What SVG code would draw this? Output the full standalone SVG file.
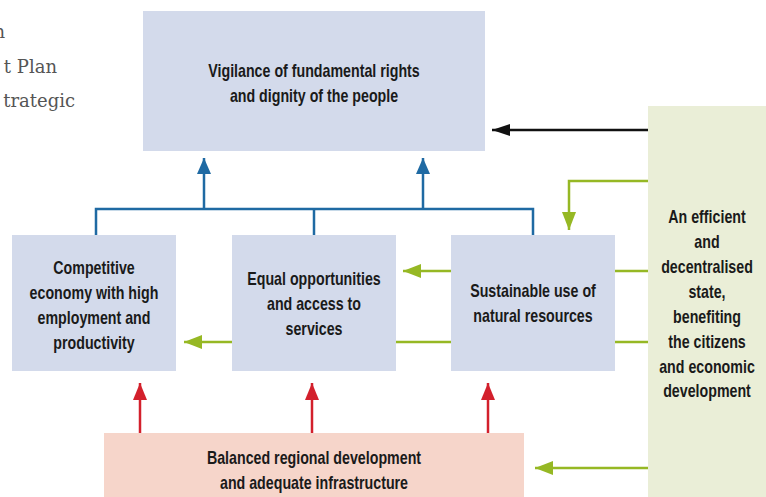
<svg xmlns="http://www.w3.org/2000/svg" width="766" height="497" viewBox="0 0 766 497">
  <style>
    .box { fill: #d3daeb; }
    .lbl { font-family: "Liberation Sans", "DejaVu Sans", sans-serif; font-weight: bold; font-size: 18px; fill: #1a1a1a; text-anchor: middle; }
    .side { font-family: "DejaVu Serif", "Liberation Serif", serif; font-size: 18px; fill: #555; text-anchor: end; }
    .blue { stroke: #1f6aa3; stroke-width: 2.5; fill: none; }
    .green { stroke: #96b824; stroke-width: 2.5; fill: none; }
    .red { stroke: #d3202c; stroke-width: 2.5; fill: none; }
    .black { stroke: #111; stroke-width: 2.5; fill: none; }
  </style>
  <defs>
    <marker id="ahBlue" markerUnits="userSpaceOnUse" markerWidth="16" markerHeight="18" refX="16" refY="7" orient="auto" viewBox="0 0 16 14">
      <path d="M0,0 L16,7 L0,14 z" fill="#1f6aa3"/>
    </marker>
    <marker id="ahGreen" markerUnits="userSpaceOnUse" markerWidth="18" markerHeight="16" refX="18" refY="7" orient="auto" viewBox="0 0 18 14">
      <path d="M0,0 L18,7 L0,14 z" fill="#96b824"/>
    </marker>
    <marker id="ahRed" markerUnits="userSpaceOnUse" markerWidth="17" markerHeight="16" refX="17" refY="7" orient="auto" viewBox="0 0 17 14">
      <path d="M0,0 L17,7 L0,14 z" fill="#d3202c"/>
    </marker>
    <marker id="ahBlack" markerUnits="userSpaceOnUse" markerWidth="18" markerHeight="14" refX="18" refY="6" orient="auto" viewBox="0 0 18 12">
      <path d="M0,0 L18,6 L0,12 z" fill="#111"/>
    </marker>
  </defs>

  <rect width="766" height="497" fill="#ffffff"/>

  <!-- running text at the page margin -->
  <g id="margin-text">
    <text class="side" x="5" y="38">n</text>
    <text class="side" x="57" y="73">t Plan</text>
    <text class="side" x="75" y="107">trategic</text>
  </g>

  <!-- connectors (drawn first so boxes sit on top) -->
  <g id="connectors">
    <!-- blue tree into the top goal -->
    <path class="blue" d="M96,235 V209 H533 V235"/>
    <path class="blue" d="M314,209 V235"/>
    <path class="blue" d="M204,209 V158" marker-end="url(#ahBlue)"/>
    <path class="blue" d="M423,209 V158" marker-end="url(#ahBlue)"/>
    <!-- black arrow from the state panel -->
    <path class="black" d="M648,130 H492" marker-end="url(#ahBlack)"/>
    <!-- green arrows from the state panel -->
    <path class="green" d="M648,181 H569 V230" marker-end="url(#ahGreen)"/>
    <path class="green" d="M648,271 H403" marker-end="url(#ahGreen)"/>
    <path class="green" d="M648,342 H184" marker-end="url(#ahGreen)"/>
    <path class="green" d="M648,468 H535" marker-end="url(#ahGreen)"/>
    <!-- red arrows from the infrastructure base -->
    <path class="red" d="M140,433 V383" marker-end="url(#ahRed)"/>
    <path class="red" d="M312,433 V383" marker-end="url(#ahRed)"/>
    <path class="red" d="M488,433 V383" marker-end="url(#ahRed)"/>
  </g>

  <!-- labels are set in a condensed cut: bold sans squeezed horizontally -->
  <g id="vigilance">
    <rect class="box" x="143" y="11" width="342" height="140"/>
    <text class="lbl" transform="translate(314,77) scale(0.79,1)">Vigilance of fundamental rights</text>
    <text class="lbl" transform="translate(314,102) scale(0.79,1)">and dignity of the people</text>
  </g>

  <g id="competitive-economy">
    <rect class="box" x="12" y="235" width="164" height="136"/>
    <text class="lbl" transform="translate(94,274) scale(0.79,1)">Competitive</text>
    <text class="lbl" transform="translate(94,299) scale(0.79,1)">economy with high</text>
    <text class="lbl" transform="translate(94,324) scale(0.79,1)">employment and</text>
    <text class="lbl" transform="translate(94,349) scale(0.79,1)">productivity</text>
  </g>

  <g id="equal-opportunities">
    <rect class="box" x="232" y="235" width="164" height="136"/>
    <text class="lbl" transform="translate(314,285) scale(0.79,1)">Equal opportunities</text>
    <text class="lbl" transform="translate(314,310) scale(0.79,1)">and access to</text>
    <text class="lbl" transform="translate(314,335) scale(0.79,1)">services</text>
  </g>

  <g id="sustainable-resources">
    <rect class="box" x="451" y="235" width="164" height="136"/>
    <text class="lbl" transform="translate(533,297) scale(0.79,1)">Sustainable use of</text>
    <text class="lbl" transform="translate(533,322) scale(0.79,1)">natural resources</text>
  </g>

  <g id="regional-development">
    <rect x="104" y="433" width="420" height="64" fill="#f6d5ca"/>
    <text class="lbl" transform="translate(314,464) scale(0.79,1)">Balanced regional development</text>
    <text class="lbl" transform="translate(314,489) scale(0.79,1)">and adequate infrastructure</text>
  </g>

  <g id="efficient-state">
    <rect x="648" y="106" width="118" height="391" fill="#eaeed7"/>
    <text class="lbl" transform="translate(707,223) scale(0.79,1)">An efficient</text>
    <text class="lbl" transform="translate(707,248) scale(0.79,1)">and</text>
    <text class="lbl" transform="translate(707,273) scale(0.79,1)">decentralised</text>
    <text class="lbl" transform="translate(707,298) scale(0.79,1)">state,</text>
    <text class="lbl" transform="translate(707,323) scale(0.79,1)">benefiting</text>
    <text class="lbl" transform="translate(707,348) scale(0.79,1)">the citizens</text>
    <text class="lbl" transform="translate(707,373) scale(0.79,1)">and economic</text>
    <text class="lbl" transform="translate(707,397) scale(0.79,1)">development</text>
  </g>
</svg>
